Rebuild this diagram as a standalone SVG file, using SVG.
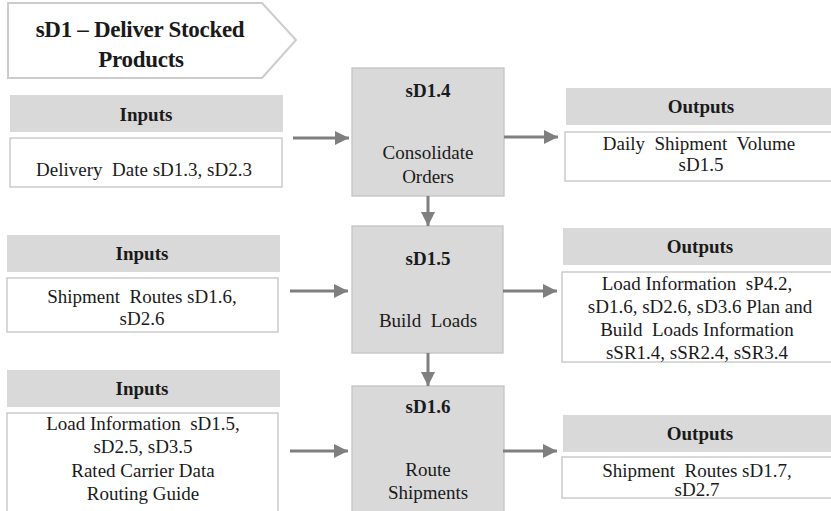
<svg xmlns="http://www.w3.org/2000/svg" width="831" height="511" viewBox="0 0 831 511" font-family="'Liberation Serif', 'Times New Roman', serif">
<style>
text{fill:#1a1a1a;text-anchor:middle}
.t{font-size:19px}
.b{font-size:19px;font-weight:bold}
.title{font-size:23px;font-weight:bold;letter-spacing:-0.3px}
.hdr{fill:#d9d9d9;stroke:none}
.body{fill:#ffffff;stroke:#c4c4c4;stroke-width:1.3}
.proc{fill:#d9d9d9;stroke:#c4c4c4;stroke-width:1.3}
.conn{stroke:#7f7f7f;stroke-width:3;fill:none;marker-end:url(#ah)}
</style>
<defs>
<marker id="ah" markerUnits="userSpaceOnUse" markerWidth="15" markerHeight="15" refX="14" refY="7" orient="auto">
<polygon points="0,0 14,7 0,14" fill="#7f7f7f"/>
</marker>
</defs>
<rect width="831" height="511" fill="#ffffff"/>
<g id="title">
<polygon points="8,3 262,3 296,40 262,78 8,78" fill="#ffffff" stroke="#cccccc" stroke-width="2"/>
<text class="title" x="140" y="37">sD1 – Deliver Stocked</text>
<text class="title" x="141" y="67">Products</text>
</g>
<g id="inputs1">
<rect class="hdr" x="10" y="95" width="273" height="37"/>
<text class="b" x="146" y="121">Inputs</text>
<rect class="body" x="10" y="138" width="272" height="49"/>
<text class="t" x="144" y="176" xml:space="preserve">Delivery  Date sD1.3, sD2.3</text>
</g>
<g id="sD1.4">
<rect class="proc" x="352" y="68" width="152" height="128"/>
<text class="b" x="428" y="97">sD1.4</text>
<text class="t" x="428" y="159">Consolidate</text>
<text class="t" x="428" y="183">Orders</text>
</g>
<g id="outputs1">
<rect class="hdr" x="566" y="88" width="270" height="37"/>
<text class="b" x="701" y="113">Outputs</text>
<rect class="body" x="565" y="132" width="272" height="49"/>
<text class="t" x="699" y="150" xml:space="preserve">Daily  Shipment  Volume</text>
<text class="t" x="701" y="171">sD1.5</text>
</g>
<g id="inputs2">
<rect class="hdr" x="7" y="235" width="273" height="37"/>
<text class="b" x="142" y="260">Inputs</text>
<rect class="body" x="7" y="278" width="271" height="54"/>
<text class="t" x="142" y="303" xml:space="preserve">Shipment  Routes sD1.6,</text>
<text class="t" x="142" y="325">sD2.6</text>
</g>
<g id="sD1.5">
<rect class="proc" x="352" y="226" width="151" height="127"/>
<text class="b" x="428" y="265">sD1.5</text>
<text class="t" x="428" y="327" xml:space="preserve">Build  Loads</text>
</g>
<g id="outputs2">
<rect class="hdr" x="563" y="228" width="272" height="37"/>
<text class="b" x="700" y="253">Outputs</text>
<rect class="body" x="562" y="272" width="274" height="90"/>
<text class="t" x="697" y="290" xml:space="preserve">Load Information  sP4.2,</text>
<text class="t" x="700" y="313">sD1.6, sD2.6, sD3.6 Plan and</text>
<text class="t" x="697" y="336" xml:space="preserve">Build  Loads Information</text>
<text class="t" x="697" y="359">sSR1.4, sSR2.4, sSR3.4</text>
</g>
<g id="inputs3">
<rect class="hdr" x="7" y="370" width="273" height="37"/>
<text class="b" x="142" y="395">Inputs</text>
<rect class="body" x="7" y="413" width="271" height="110"/>
<text class="t" x="143" y="430" xml:space="preserve">Load Information  sD1.5,</text>
<text class="t" x="143" y="453">sD2.5, sD3.5</text>
<text class="t" x="143" y="477">Rated Carrier Data</text>
<text class="t" x="143" y="500">Routing Guide</text>
</g>
<g id="sD1.6">
<rect class="proc" x="352" y="386" width="152" height="140"/>
<text class="b" x="428" y="413">sD1.6</text>
<text class="t" x="428" y="476">Route</text>
<text class="t" x="428" y="499">Shipments</text>
</g>
<g id="outputs3">
<rect class="hdr" x="563" y="415" width="272" height="37"/>
<text class="b" x="700" y="440">Outputs</text>
<rect class="body" x="562" y="457" width="274" height="41"/>
<text class="t" x="697" y="477" xml:space="preserve">Shipment  Routes sD1.7,</text>
<text class="t" x="697" y="496">sD2.7</text>
</g>
<g id="connectors">
<line class="conn" x1="293" y1="138" x2="349" y2="138"/>
<line class="conn" x1="504" y1="137" x2="558" y2="137"/>
<line class="conn" x1="428" y1="196" x2="428" y2="226"/>
<line class="conn" x1="290" y1="291" x2="348" y2="291"/>
<line class="conn" x1="503" y1="291" x2="557" y2="291"/>
<line class="conn" x1="428" y1="353" x2="428" y2="386"/>
<line class="conn" x1="290" y1="451" x2="348" y2="451"/>
<line class="conn" x1="503" y1="451" x2="557" y2="451"/>
</g>
</svg>
